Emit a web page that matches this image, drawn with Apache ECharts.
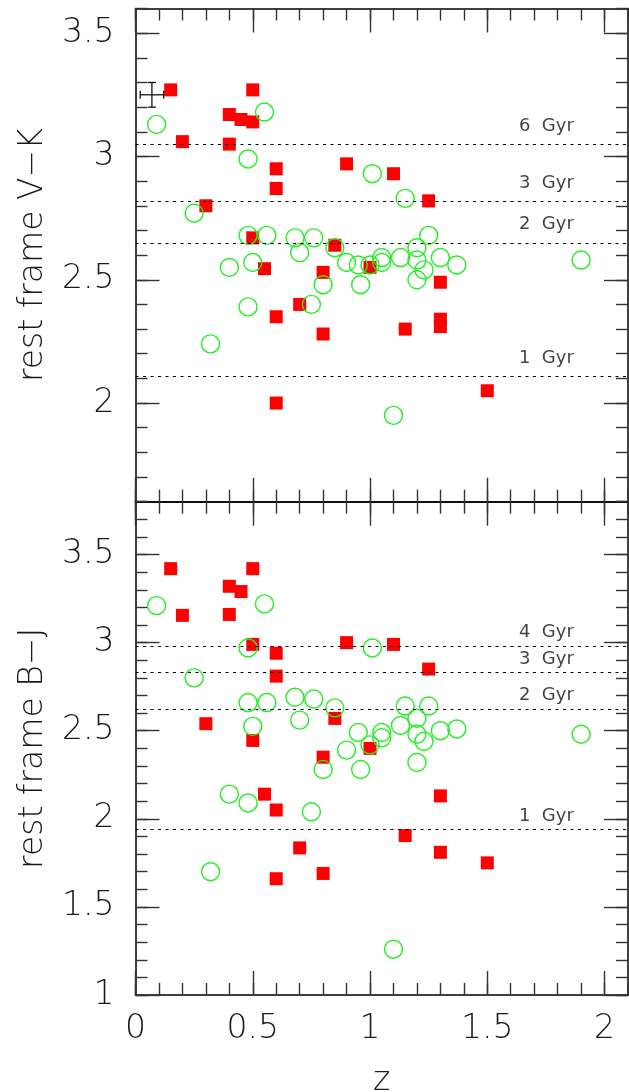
<!DOCTYPE html>
<html><head><meta charset="utf-8">
<script src="https://cdn.jsdelivr.net/npm/echarts@6/dist/echarts.min.js"></script>
<style>html,body{margin:0;padding:0;background:#fff}#c{width:629px;height:1092px}</style>
</head><body><div id="c"></div>
<script>
// ---- data ----
const topRed = [[0.15,3.27],[0.50,3.27],[0.40,3.17],[0.45,3.15],[0.50,3.14],[0.20,3.06],[0.40,3.05],[0.60,2.95],[0.60,2.87],[0.30,2.80],[0.50,2.67],[0.55,2.545],[0.85,2.64],[0.90,2.97],[1.10,2.93],[1.25,2.82],[1.00,2.55],[0.80,2.53],[1.30,2.49],[0.70,2.40],[0.60,2.35],[0.80,2.28],[1.15,2.30],[1.30,2.34],[1.30,2.31],[1.50,2.05],[0.60,2.00]];
const topGreen = [[0.09,3.13],[0.55,3.18],[0.48,2.99],[0.25,2.77],[0.48,2.68],[0.56,2.68],[0.68,2.67],[0.76,2.67],[0.70,2.61],[1.01,2.93],[1.15,2.83],[1.25,2.68],[0.85,2.63],[1.20,2.63],[0.90,2.57],[0.95,2.56],[1.00,2.56],[1.05,2.59],[1.05,2.57],[1.13,2.59],[1.20,2.58],[1.23,2.54],[1.20,2.50],[1.30,2.59],[1.37,2.56],[1.90,2.58],[0.80,2.48],[0.96,2.48],[0.75,2.40],[1.10,1.95],[0.40,2.55],[0.50,2.57],[0.48,2.39],[0.32,2.24]];
const bottomRed = [[0.15,3.42],[0.50,3.42],[0.40,3.32],[0.45,3.29],[0.20,3.155],[0.40,3.16],[0.50,2.99],[0.60,2.94],[0.60,2.81],[0.90,3.00],[1.10,2.99],[1.25,2.85],[0.85,2.57],[0.30,2.54],[0.50,2.445],[1.00,2.40],[0.80,2.35],[1.30,2.13],[1.15,1.905],[1.30,1.81],[1.50,1.75],[0.80,1.69],[0.70,1.835],[0.55,2.14],[0.60,2.05],[0.60,1.66]];
const bottomGreen = [[0.09,3.21],[0.55,3.22],[0.48,2.97],[0.25,2.80],[0.48,2.66],[0.56,2.66],[0.68,2.69],[0.76,2.68],[0.70,2.56],[0.50,2.525],[1.01,2.97],[0.85,2.63],[1.15,2.64],[1.25,2.64],[1.20,2.57],[1.13,2.53],[1.05,2.49],[1.05,2.46],[0.95,2.49],[1.30,2.50],[1.37,2.51],[1.90,2.48],[1.20,2.48],[1.23,2.44],[0.90,2.39],[1.00,2.42],[0.80,2.28],[0.96,2.28],[1.20,2.32],[0.75,2.04],[1.10,1.26],[0.40,2.14],[0.48,2.09],[0.32,1.70]];
const topAgeNames = ['6  Gyr','3  Gyr','2  Gyr','1  Gyr'];
const topAgeValues = [3.05, 2.82, 2.65, 2.11];
const bottomAgeNames = ['4  Gyr','3  Gyr','2  Gyr','1  Gyr'];
const bottomAgeValues = [2.98, 2.826, 2.624, 1.94];
const errorBar = [[0.07, 3.25, 0.05, 0.05]];   // x, y, xerr, yerr
const xTickLabels = [0, 0.5, 1, 1.5, 2];
const topYTickLabels = [2, 2.5, 3, 3.5];
const bottomYTickLabels = [1, 1.5, 2, 2.5, 3, 3.5];
const xRange = [0, 2.1];
const topYRange = [1.6, 3.6];
const bottomYRange = [1, 3.8];

function steps(a, b, s) { const out = []; const n = Math.round((b - a) / s); for (let i = 0; i <= n; i++) out.push(Math.round((a + i * s) * 1000) / 1000); return out; }
const xMinor = steps(xRange[0], xRange[1], 0.1);
const topYMinor = steps(topYRange[0], topYRange[1], 0.1);
const bottomYMinor = steps(bottomYRange[0], bottomYRange[1], 0.1);

const FONT = 'DejaVu Sans';
const TXT = '#1a1a1a';
const lineW = 1.5;

function xAx(grid, pos, major, showLabel, extra) {
  const a = {
    type: 'value', gridIndex: grid, position: pos, min: xRange[0], max: xRange[1],
    axisLine: { show: major, onZero: false, lineStyle: { color: '#000', width: lineW } },
    axisTick: { show: true, inside: true, length: major ? 24 : 12, customValues: major ? xTickLabels : xMinor, lineStyle: { color: '#333', width: 1.4 } },
    axisLabel: { show: showLabel, customValues: xTickLabels, margin: 18, fontSize: 33, fontFamily: FONT, fontWeight: 200, color: TXT },
    splitLine: { show: false }
  };
  return Object.assign(a, extra || {});
}
function yAx(grid, pos, major, showLabel, range, majorT, minorT, extra) {
  const a = {
    type: 'value', gridIndex: grid, position: pos, min: range[0], max: range[1],
    axisLine: { show: major, onZero: false, lineStyle: { color: '#000', width: lineW } },
    axisTick: { show: true, inside: true, length: major ? 24 : 12, customValues: major ? majorT : minorT, lineStyle: { color: '#333', width: 1.4 } },
    axisLabel: { show: showLabel, customValues: majorT, margin: 21, fontSize: 33, fontFamily: FONT, fontWeight: 200, color: TXT },
    splitLine: { show: false }
  };
  return Object.assign(a, extra || {});
}

const axisName = (n, gap, rot) => ({
  name: n, nameLocation: 'middle', nameGap: gap, nameRotate: rot,
  nameTextStyle: { fontSize: 33, fontFamily: FONT, fontWeight: 200, color: TXT }
});

const xAxis = [
  xAx(0, 'bottom', true, false), xAx(0, 'bottom', false, false),
  xAx(0, 'top', true, false), xAx(0, 'top', false, false),
  xAx(1, 'bottom', true, true, axisName('z', 70, 0)), xAx(1, 'bottom', false, false),
  xAx(1, 'top', true, false), xAx(1, 'top', false, false)
];
const yAxis = [
  yAx(0, 'left', true, true, topYRange, topYTickLabels, topYMinor, axisName('rest frame V\u2212K', 86, 90)),
  yAx(0, 'left', false, false, topYRange, topYTickLabels, topYMinor),
  yAx(0, 'right', true, false, topYRange, topYTickLabels, topYMinor),
  yAx(0, 'right', false, false, topYRange, topYTickLabels, topYMinor),
  yAx(1, 'left', true, true, bottomYRange, bottomYTickLabels, bottomYMinor, axisName('rest frame B\u2212J', 86, 90)),
  yAx(1, 'left', false, false, bottomYRange, bottomYTickLabels, bottomYMinor),
  yAx(1, 'right', true, false, bottomYRange, bottomYTickLabels, bottomYMinor),
  yAx(1, 'right', false, false, bottomYRange, bottomYTickLabels, bottomYMinor)
];

function ageSeries(xi, yi, names, values, dy) {
  return {
    type: 'scatter', xAxisIndex: xi, yAxisIndex: yi, z: 1, silent: true,
    symbolSize: 1, itemStyle: { color: 'rgba(0,0,0,0)' },
    data: names.map((n, i) => ({ name: n, value: [1.633, values[i]] })),
    label: { show: true, position: 'right', distance: 0, offset: [0, -dy], formatter: '{b}', fontSize: 18, fontFamily: FONT, fontWeight: 'normal', color: '#111' },
    markLine: {
      silent: true, symbol: 'none', animation: false,
      label: { show: false },
      lineStyle: { color: '#000', width: 1.1, type: [3, 4.5] },
      data: values.map(v => ({ yAxis: v }))
    }
  };
}
const redStyle = (xi, yi, d) => ({ type: 'scatter', xAxisIndex: xi, yAxisIndex: yi, z: 3, symbol: 'rect', symbolSize: 13, itemStyle: { color: '#ff0000', opacity: 1 }, data: d });
const greenStyle = (xi, yi, d) => ({ type: 'scatter', xAxisIndex: xi, yAxisIndex: yi, z: 4, symbol: 'circle', symbolSize: 18, itemStyle: { color: 'rgba(0,0,0,0)', borderColor: '#22ee22', borderWidth: 1.4, opacity: 1 }, data: d });

const option = {
  animation: false,
  backgroundColor: '#fff',
  grid: [
    { left: 135.5, top: 8.5, width: 492.5, height: 493.2, containLabel: false, outerBoundsMode: 'none' },
    { left: 135.5, top: 501.7, width: 492.5, height: 493.3, containLabel: false, outerBoundsMode: 'none' }
  ],
  xAxis, yAxis,
  series: [
    ageSeries(0, 0, topAgeNames, topAgeValues, 18),
    ageSeries(4, 4, bottomAgeNames, bottomAgeValues, 13.5),
    redStyle(0, 0, topRed), greenStyle(0, 0, topGreen),
    redStyle(4, 4, bottomRed), greenStyle(4, 4, bottomGreen),
    {
      type: 'custom', xAxisIndex: 0, yAxisIndex: 0, z: 5, silent: true,
      data: errorBar,
      renderItem: function (params, api) {
        const x = api.value(0), y = api.value(1), ex = api.value(2), ey = api.value(3);
        const l = api.coord([x - ex, y]), r = api.coord([x + ex, y]);
        const t = api.coord([x, y + ey]), b = api.coord([x, y - ey]);
        const cap = 4;
        const st = { stroke: '#000', lineWidth: 1.2 };
        const ln = (x1, y1, x2, y2) => ({ type: 'line', shape: { x1, y1, x2, y2 }, style: st });
        return { type: 'group', children: [
          ln(l[0], l[1], r[0], r[1]), ln(t[0], t[1], b[0], b[1]),
          ln(t[0] - cap, t[1], t[0] + cap, t[1]), ln(b[0] - cap, b[1], b[0] + cap, b[1]),
          ln(l[0], l[1] - cap, l[0], l[1] + cap), ln(r[0], r[1] - cap, r[0], r[1] + cap)
        ] };
      }
    }
  ]
};
const chart = echarts.init(document.getElementById('c'), null, { renderer: 'canvas' });
chart.setOption(option);
</script>
</body></html>
